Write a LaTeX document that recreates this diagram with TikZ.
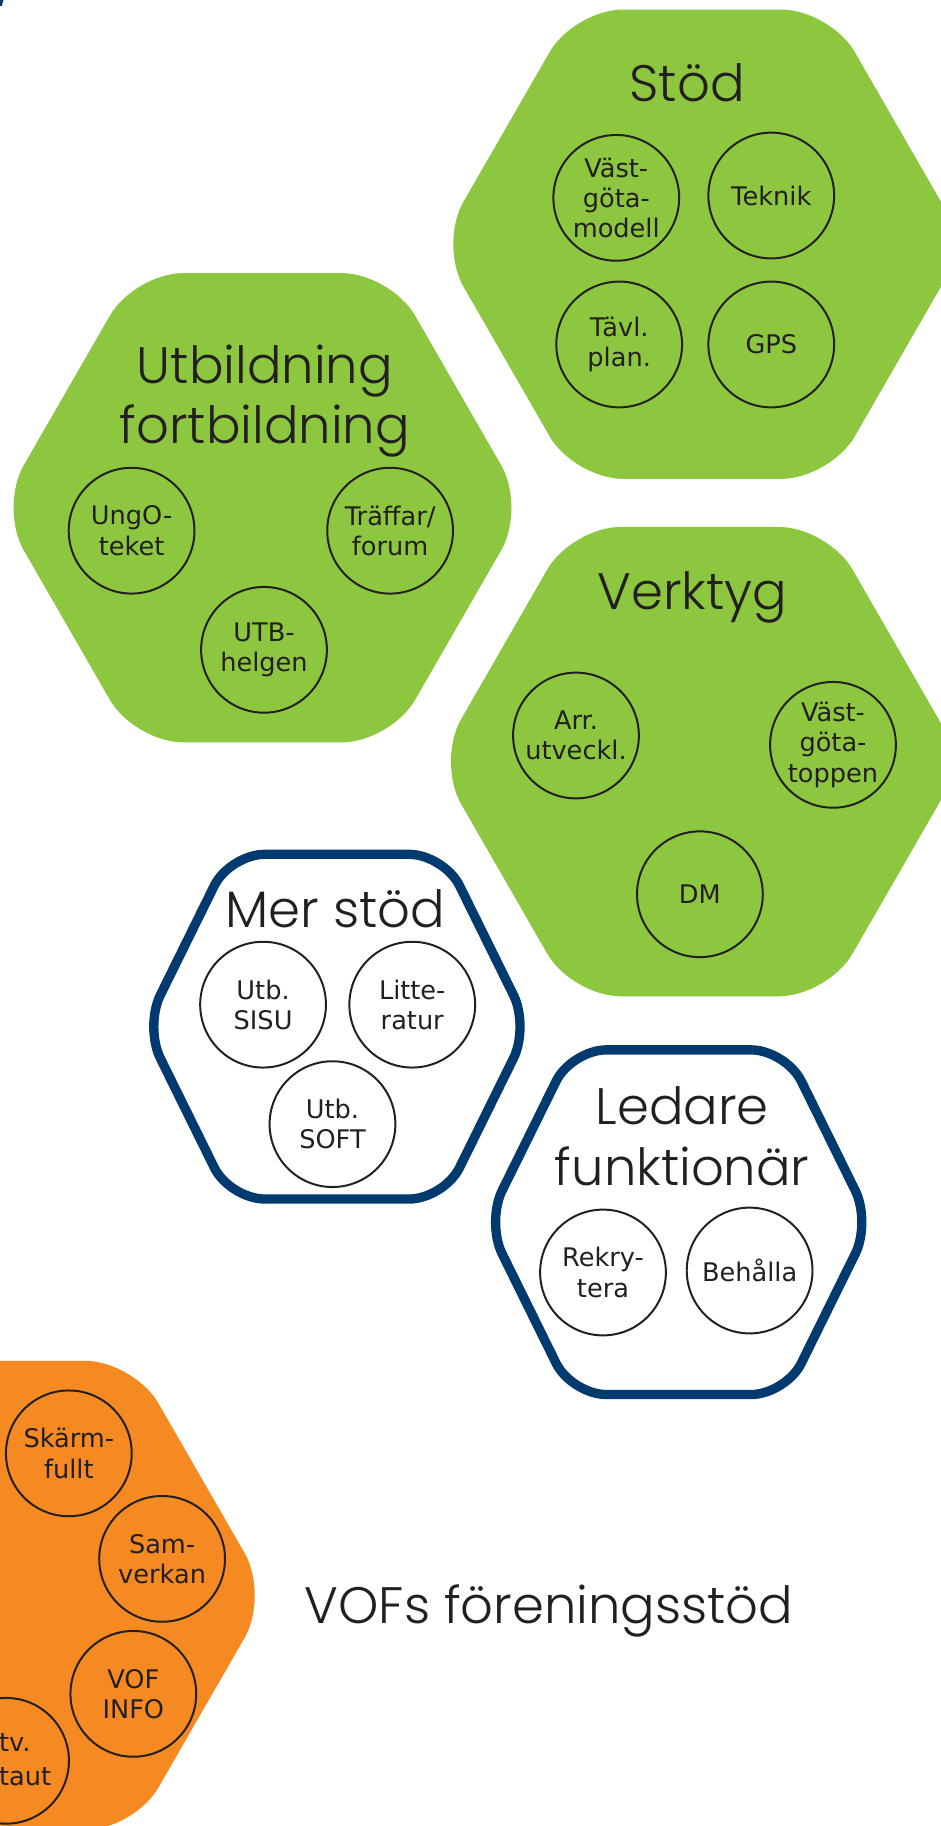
\documentclass[tikz,border=0pt]{standalone}
\usepackage{fontspec}
\IfFontExistsTF{Poppins Light}{\newfontfamily\titlefont{Poppins Light}}{\newfontfamily\titlefont{Poppins}}
\newfontfamily\labelfont{DejaVu Sans}
\definecolor{hgreen}{HTML}{8DC63F}
\definecolor{horange}{HTML}{F58A23}
\definecolor{hblue}{HTML}{003A6E}
\definecolor{ink}{HTML}{231F20}
\tikzset{
  greenhex/.style={fill=hgreen, rounded corners=42pt},
  orangehex/.style={fill=horange, rounded corners=42pt},
  bluehex/.style={draw=hblue, line width=8pt, fill=white, rounded corners=30pt},
  bubble/.style={circle, draw=ink, line width=1.7pt, minimum size=108pt, inner sep=0pt,
    align=center, text=ink, font={\labelfont\fontsize{22}{26}\selectfont}},
  title/.style={anchor=base, text=ink, inner sep=0pt, font={\titlefont\fontsize{44}{51}\selectfont}}
}
\begin{document}
\begin{tikzpicture}[x=1pt, y=-1pt]
\clip (0,0) rectangle (808,1568);
\fill[white] (0,0) rectangle (808,1568);
% small blue mark top-left
\fill[hblue] (0,0) -- (3,0) -- (1.5,5) -- (0,5) -- cycle;
% green hexagons
\fill[greenhex, shift={(603,209.7)}] (0,-201.5) -- (110,-201.5) -- (226,0) -- (110,201.5) -- (-110,201.5) -- (-226,0) -- (-110,-201.5) -- cycle;
\fill[greenhex, shift={(225.4,436)}] (0,-201.5) -- (110,-201.5) -- (226,0) -- (110,201.5) -- (-110,201.5) -- (-226,0) -- (-110,-201.5) -- cycle;
\fill[greenhex, shift={(601,654)}] (0,-201.5) -- (110,-201.5) -- (226,0) -- (110,201.5) -- (-110,201.5) -- (-226,0) -- (-110,-201.5) -- cycle;
% orange hexagon
\fill[orangehex, shift={(5,1370)}] (0,-201.5) -- (110,-201.5) -- (226,0) -- (110,201.5) -- (-110,201.5) -- (-226,0) -- (-110,-201.5) -- cycle;
% blue hexagons
\draw[bluehex, shift={(289.3,881.6)}] (0,-148) -- (92,-148) -- (165,0) -- (92,148) -- (-92,148) -- (-165,0) -- (-92,-148) -- cycle;
\draw[bluehex, shift={(582.8,1049.5)}] (0,-148) -- (92,-148) -- (165,0) -- (92,148) -- (-92,148) -- (-165,0) -- (-92,-148) -- cycle;

% titles
\node[title] (tstod) at (590,87.3) {Stöd};
\node[title] (tutbA) at (227.5,329) {Utbildning};
\node[title] (tutbB) at (227.5,380.5) {fortbildning};
\node[title] (tverk) at (594.4,523.8) {Verktyg};
\node[title] (tmer) at (288,796.3) {Mer stöd};
\node[title] (tledA) at (585.8,966) {Ledare};
\node[title] (tledB) at (585.8,1018.4) {funktionär};
\node[title] (tvof) at (471.5,1394) {VOFs föreningsstöd};

% Stöd circles
\node[bubble] (vgm) at (529.2,169.9) {Väst-\\göta-\\modell};
\node[bubble] (tek) at (662.3,167.9) {Teknik};
\node[bubble] (tavl) at (531.7,295.8) {Tävl.\\plan.};
\node[bubble] (gps) at (662.3,295.8) {GPS};
% Utbildning circles
\node[bubble] (ung) at (113,455.7) {UngO-\\teket};
\node[bubble] (traff) at (335,455.7) {Träffar/\\forum};
\node[bubble] (utbh) at (226.7,558) {UTB-\\helgen};
% Verktyg circles
\node[bubble] (arr) at (494.6,631.6) {Arr.\\utveckl.};
\node[bubble] (vgt) at (715.3,639.6) {Väst-\\göta-\\toppen};
\node[bubble] (dm) at (601,767.9) {DM};
% Mer stöd circles
\node[bubble] (sisu) at (225.9,862.7) {Utb.\\SISU};
\node[bubble] (litt) at (354,862.7) {Litte-\\ratur};
\node[bubble] (soft) at (285.5,965.3) {Utb.\\SOFT};
% Ledare circles
\node[bubble] (rek) at (517.8,1092.7) {Rekry-\\tera};
\node[bubble] (beh) at (643.7,1091) {Behålla};
% orange circles
\node[bubble] (skarm) at (59.1,1248) {Skärm-\\fullt};
\node[bubble] (sam) at (139.2,1338.6) {Sam-\\verkan};
\node[bubble] (vof) at (114.5,1454.5) {VOF\\INFO};
\node[bubble] (utv) at (5.2,1512) {};
\node[anchor=west, align=left, inner sep=0pt, text=ink, font={\labelfont\fontsize{22}{28.5}\selectfont}] (utvtxt) at (-1,1511) {tv.\\taut};
\end{tikzpicture}
\end{document}
